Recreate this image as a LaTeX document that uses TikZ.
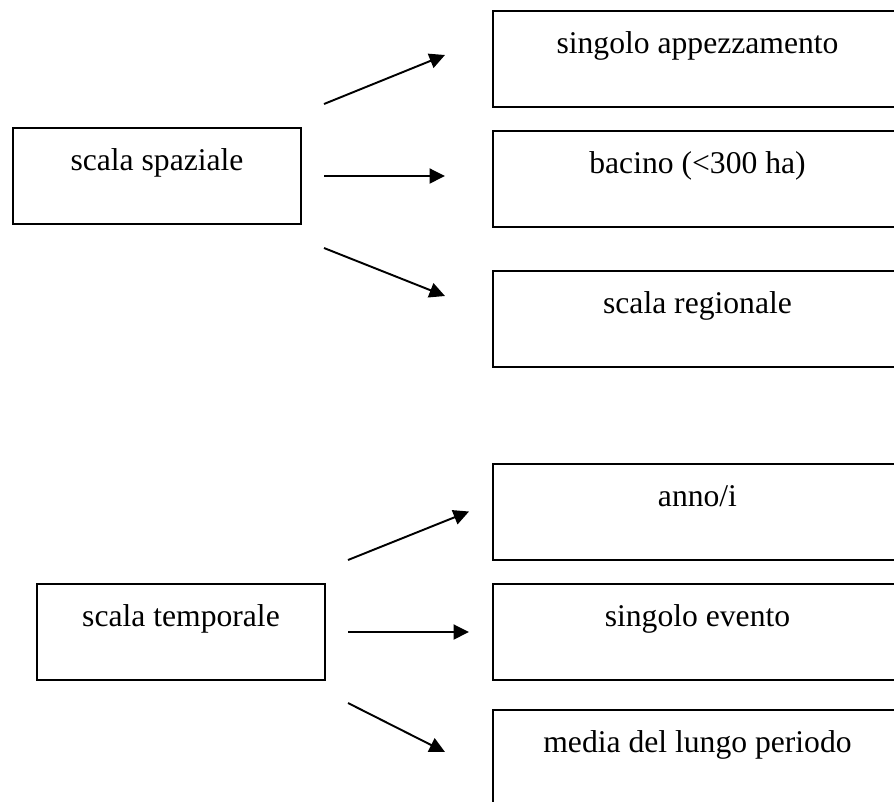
\documentclass[tikz,border=0pt]{standalone}
\usepackage{fontspec}
\setmainfont{Liberation Serif}
\usetikzlibrary{arrows.meta}

\begin{document}
\begin{tikzpicture}[x=0.02cm,y=-0.02cm,
    box/.style={draw,line width=1.1pt,inner sep=0pt,
      text height=0.84cm,text depth=1.08cm,
      font=\fontsize{18}{20}\selectfont},
    lbox/.style={box,minimum width=5.77cm},
    rbox/.style={box,minimum width=8.18cm},
    arr/.style={line width=1.1pt,-{Triangle[length=0.31cm,width=0.3cm]}}]
      \clip (0,0) rectangle (894,802);
      % scala spaziale
      \draw
        (157,176) node[lbox] (spaziale){scala spaziale}
        (697.5,59) node[rbox] (appezz){singolo appezzamento}
        (697.5,179) node[rbox] (bacino){bacino (<300 ha)}
        (697.5,319) node[rbox] (regionale){scala regionale};
      % scala temporale
      \draw
        (181,632) node[lbox] (temporale){scala temporale}
        (697.5,512) node[rbox] (anno){anno/i}
        (697.5,632) node[rbox] (evento){singolo evento}
        (697.5,758) node[rbox] (media){media del lungo periodo};
      \coordinate (s1) at (324,104);   \coordinate (e1) at (445,55);
      \coordinate (s2) at (324,176);   \coordinate (e2) at (445,176);
      \coordinate (s3) at (324,248);   \coordinate (e3) at (445,296);
      \coordinate (t1) at (348,560);   \coordinate (f1) at (469,511.5);
      \coordinate (t2) at (348,632);   \coordinate (f2) at (469,632);
      \coordinate (t3) at (348,703);   \coordinate (f3) at (445,752);
      \begin{scope}[arr]
        \draw (s1) to (e1);
        \draw (s2) to (e2);
        \draw (s3) to (e3);
        \draw (t1) to (f1);
        \draw (t2) to (f2);
        \draw (t3) to (f3);
      \end{scope}
    \end{tikzpicture}
\end{document}
